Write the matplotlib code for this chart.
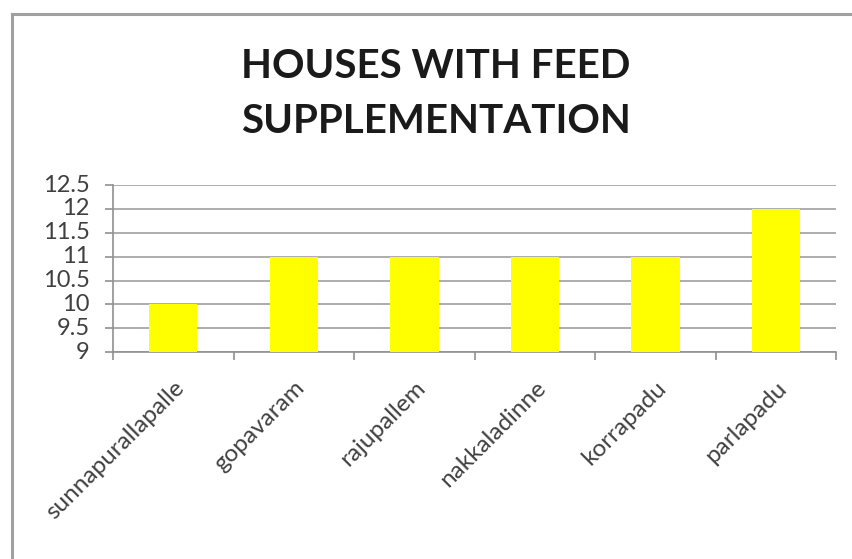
import matplotlib
matplotlib.use('Agg')
from matplotlib import pyplot as plt
from matplotlib.lines import Line2D

# 数据
villages = ['sunnapurallapalle', 'gopavaram', 'rajupallem', 'nakkaladinne', 'korrapadu', 'parlapadu']
houses = [10, 11, 11, 11, 11, 12]
yticks = [9, 9.5, 10, 10.5, 11, 11.5, 12, 12.5]

plt.rcParams['font.family'] = ['Lato', 'DejaVu Sans']

fig = plt.figure(figsize=(8.53, 5.59), dpi=100)
ax = fig.add_axes([0.1325, 0.370, 0.848, 0.299])

x = range(len(villages))
ax.bar(x, [h - 9 for h in houses], bottom=9, width=0.4, color='#ffff00', zorder=3)

ax.set_xlim(-0.5, len(villages) - 0.5)
ax.set_ylim(9, 12.5)
ax.set_yticks(yticks)
ax.set_yticklabels(['9', '9.5', '10', '10.5', '11', '11.5', '12', '12.5'])
ax.grid(axis='y', color='#a0a0a0', linewidth=1.2, zorder=0)

# 刻度放在类别之间
ax.set_xticks([i - 0.5 for i in range(len(villages) + 1)])
ax.set_xticklabels([])
ax.set_xticks(list(x), minor=True)
ax.set_xticklabels(villages, minor=True, rotation=45, ha='right', rotation_mode='anchor',
                   fontsize=17.5, color='#404040')
ax.tick_params(axis='x', which='minor', length=0, pad=18)
ax.tick_params(axis='x', which='major', length=6, color='#909090', width=1.2)
ax.tick_params(axis='y', length=6, color='#909090', width=1.2, labelsize=17,
               labelcolor='#404040', pad=11)
for lab in ax.get_yticklabels():
    lab.set_va('center')

for s in ['top', 'right']:
    ax.spines[s].set_visible(False)
for s in ['left', 'bottom']:
    ax.spines[s].set_color('#909090')
    ax.spines[s].set_linewidth(1.2)

fig.text(0.511, 0.832, 'HOUSES WITH FEED\nSUPPLEMENTATION', ha='center', va='center',
         fontsize=29, fontweight='bold', color='#1a1a1a', linespacing=1.6)

# 外框
fig.add_artist(Line2D([0.0145, 0.0145], [0, 0.975], transform=fig.transFigure,
                      color='#a0a0a0', linewidth=2.2))
fig.add_artist(Line2D([0.0145, 1.0], [0.975, 0.975], transform=fig.transFigure,
                      color='#a0a0a0', linewidth=2.2))

plt.savefig('out.png', dpi=100)
